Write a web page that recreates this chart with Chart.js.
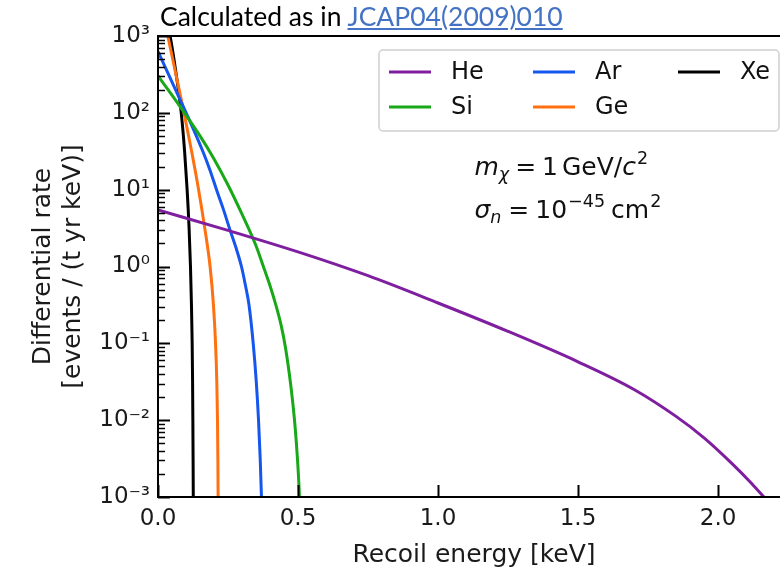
<!DOCTYPE html>
<html>
<head>
<meta charset="utf-8">
<script src="https://cdn.jsdelivr.net/npm/chart.js@4.4.0/dist/chart.umd.min.js"></script>
<style>
    html, body { margin: 0; padding: 0; background: #fff; overflow: hidden; }
    #wrap { position: relative; width: 780px; height: 570px; overflow: hidden; }
    #rateChart { position: absolute; left: 0; top: 0; }
    #caption {
        position: absolute; left: 160px; top: 0px; white-space: nowrap;
        font-family: Lato, "Open Sans", sans-serif; font-size: 26.5px; color: #000;
    }
    #caption a { color: #4472c4; text-decoration: underline; }
</style>
</head>
<body>
<div id="wrap">
    <canvas id="rateChart" width="790" height="570"></canvas>
    <div id="caption">Calculated as in <a href="#">JCAP04(2009)010</a></div>
</div>
<script>
// Recoil energy [keV] and differential rate [events / (t yr keV)]
const energyHe = [0, 0.25, 0.5, 0.75, 1.0, 1.25, 1.5, 1.7, 1.85, 1.95, 2.05, 2.12, 2.17];
const rateHe   = [5.43, 2.95, 1.55, 0.759, 0.335, 0.143, 0.0575, 0.0251, 0.0112, 0.00589, 0.00272, 0.0015, 0.00094];

const energySi = [0, 0.05, 0.1, 0.15, 0.2, 0.25, 0.3, 0.35, 0.38, 0.40, 0.42, 0.44, 0.455, 0.468, 0.48, 0.49, 0.498, 0.504, 0.508];
const rateSi   = [302, 170, 93.3, 50.1, 25.1, 11.5, 4.79, 1.86, 0.912, 0.562, 0.324, 0.17, 0.0891, 0.0427, 0.0186, 0.0079, 0.00316, 0.00126, 0.0005];

const energyAr = [0, 0.04, 0.079, 0.12, 0.16, 0.186, 0.209, 0.233, 0.255, 0.278, 0.298, 0.3125, 0.325, 0.34, 0.351, 0.359, 0.365, 0.3695, 0.3715];
const rateAr   = [631, 302, 148, 69.2, 31.6, 17.8, 10, 5.62, 3.16, 1.78, 1, 0.562, 0.316, 0.1, 0.0316, 0.01, 0.00316, 0.001, 0.0005];

const energyGe = [0, 0.035, 0.064, 0.093, 0.12, 0.145, 0.167, 0.186, 0.198, 0.2055, 0.21, 0.2125, 0.2138, 0.2147, 0.215];
const rateGe   = [3980, 1000, 316, 100, 31.6, 10, 3.16, 1, 0.316, 0.1, 0.0316, 0.01, 0.00316, 0.001, 0.0005];

const energyXe = [0, 0.043, 0.065, 0.083, 0.095, 0.104, 0.111, 0.116, 0.1195, 0.122, 0.1235, 0.1245, 0.1253, 0.126, 0.1265];
const rateXe   = [3550, 1000, 316, 100, 31.6, 10, 3.16, 1, 0.316, 0.1, 0.0316, 0.01, 0.00316, 0.001, 0.0005];

const seriesLabels = ['He', 'Si', 'Ar', 'Ge', 'Xe'];
const seriesColors = ['#7f1fa0', '#18a818', '#1456ee', '#ff7010', '#000000'];

const yTickPowers = [-3, -2, -1, 0, 1, 2, 3];
const xTickStep = 0.5;

const FONT = '"DejaVu Sans", sans-serif';

function toPoints(xs, ys) {
    return xs.map((x, i) => ({ x: x, y: ys[i] }));
}

function superscript(n) {
    const map = { '-': '\u207B', '0': '\u2070', '1': '\u00B9', '2': '\u00B2', '3': '\u00B3',
                  '4': '\u2074', '5': '\u2075', '6': '\u2076', '7': '\u2077', '8': '\u2078', '9': '\u2079' };
    return String(n).split('').map(c => map[c]).join('');
}

const allEnergy = [energyHe, energySi, energyAr, energyGe, energyXe];
const allRate = [rateHe, rateSi, rateAr, rateGe, rateXe];

const datasets = seriesLabels.map((label, i) => ({
    label: label,
    data: toPoints(allEnergy[i], allRate[i]),
    borderColor: seriesColors[i],
    backgroundColor: seriesColors[i],
    borderWidth: 3,
    pointRadius: 0,
    fill: false,
    cubicInterpolationMode: 'monotone'
}));

// Frame and inward ticks like matplotlib
const frameTicksPlugin = {
    id: 'frameTicks',
    afterDatasetsDraw(chart) {
        const { ctx, chartArea: { left, right, top, bottom }, scales: { x, y } } = chart;
        ctx.save();
        ctx.strokeStyle = '#000';
        ctx.lineWidth = 2;
        x.ticks.forEach(t => {
            const px = Math.round(x.getPixelForValue(t.value)) + 0.5;
            ctx.beginPath();
            ctx.moveTo(px, bottom);
            ctx.lineTo(px, bottom - 12);
            ctx.stroke();
        });
        yTickPowers.forEach(k => {
            for (let m = 1; m <= 9; m++) {
                const v = m * Math.pow(10, k);
                if (v > y.max) break;
                const py = Math.round(y.getPixelForValue(v)) + 0.5;
                ctx.lineWidth = m === 1 ? 2 : 1.5;
                ctx.beginPath();
                ctx.moveTo(left, py);
                ctx.lineTo(left + (m === 1 ? 12 : 7), py);
                ctx.stroke();
            }
        });
        ctx.lineWidth = 2;
        ctx.strokeRect(left, top, right - left, bottom - top);
        ctx.restore();
    }
};

// Legend box (3 columns, filled column by column) and parameter text
const legendTextPlugin = {
    id: 'legendText',
    afterDraw(chart) {
        const { ctx, chartArea: { right, top } } = chart;
        const boxRight = right - 11, boxLeft = boxRight - 400;
        const boxTop = top + 14, boxBottom = boxTop + 81;
        ctx.save();
        ctx.fillStyle = 'rgba(255,255,255,0.85)';
        ctx.strokeStyle = '#d0d0d0';
        ctx.lineWidth = 1.5;
        ctx.beginPath();
        ctx.roundRect(boxLeft, boxTop, boxRight - boxLeft, boxBottom - boxTop, 4);
        ctx.fill();
        ctx.stroke();

        ctx.font = '24px ' + FONT;
        ctx.textBaseline = 'middle';
        ctx.textAlign = 'left';
        const colX = [boxLeft + 10, boxLeft + 154, boxLeft + 299];
        const rowY = [boxTop + 22, boxTop + 57];
        chart.data.datasets.forEach((ds, i) => {
            const col = Math.floor(i / 2), row = i % 2;
            const lx = colX[col], ly = rowY[row];
            ctx.strokeStyle = ds.borderColor;
            ctx.lineWidth = 3;
            ctx.beginPath();
            ctx.moveTo(lx, ly);
            ctx.lineTo(lx + 42, ly);
            ctx.stroke();
            ctx.fillStyle = '#111';
            ctx.fillText(ds.label, lx + 62, ly + 1);
        });

        // m_chi and sigma_n annotation
        const drawParts = (parts, x0, base) => {
            let x = x0;
            parts.forEach(p => {
                ctx.font = (p.italic ? 'italic ' : '') + p.size + 'px ' + FONT;
                ctx.fillText(p.t, x, base + (p.dy || 0));
                x += ctx.measureText(p.t).width + (p.gap || 0);
            });
        };
        ctx.fillStyle = '#111';
        ctx.textBaseline = 'alphabetic';
        const ax = chart.scales.x.getPixelForValue(1.13);
        drawParts([
            { t: 'm', italic: true, size: 25 },
            { t: '\u03C7', italic: true, size: 17.5, dy: 5, gap: 6 },
            { t: '=', size: 25, gap: 6 },
            { t: '1', size: 25, gap: 4 },
            { t: 'GeV/', size: 25 },
            { t: 'c', italic: true, size: 25, gap: 1 },
            { t: '2', size: 17.5, dy: -11 }
        ], ax, top + 139);
        drawParts([
            { t: '\u03C3', italic: true, size: 25 },
            { t: 'n', italic: true, size: 17.5, dy: 5, gap: 7 },
            { t: '=', size: 25, gap: 6 },
            { t: '10', size: 25, gap: 1 },
            { t: '\u221245', size: 17.5, dy: -11, gap: 6 },
            { t: 'cm', size: 25, gap: 1 },
            { t: '2', size: 17.5, dy: -11 }
        ], ax, top + 182);
        ctx.restore();
    }
};

const rateChart = new Chart(document.getElementById('rateChart'), {
    type: 'line',
    data: { datasets: datasets },
    options: {
        responsive: false,
        animation: false,
        devicePixelRatio: 1,
        layout: { padding: { top: 36, right: 0, left: 0, bottom: 0 } },
        plugins: {
            legend: { display: false },
            tooltip: { enabled: false }
        },
        scales: {
            x: {
                type: 'linear',
                min: 0,
                max: 2.257,
                grid: { display: false, drawTicks: false },
                border: { display: false },
                ticks: {
                    stepSize: xTickStep,
                    includeBounds: false,
                    padding: 8,
                    color: '#1a1a1a',
                    font: { family: FONT, size: 23 },
                    maxRotation: 0,
                    callback: v => v.toFixed(1)
                },
                title: {
                    display: true,
                    text: 'Recoil energy [keV]',
                    color: '#1a1a1a',
                    font: { family: FONT, size: 25 },
                    padding: { top: 2, bottom: 0 }
                },
                afterFit: scale => { scale.height = 73; }
            },
            y: {
                type: 'logarithmic',
                min: 1e-3,
                max: 1e3,
                grid: { display: false, drawTicks: false },
                border: { display: false },
                afterBuildTicks: scale => {
                    scale.ticks = yTickPowers.map(k => ({ value: Math.pow(10, k) }));
                },
                ticks: {
                    padding: 8,
                    color: '#1a1a1a',
                    font: { family: FONT, size: 23 },
                    callback: v => '10' + superscript(Math.round(Math.log10(v)))
                },
                title: {
                    display: true,
                    text: ['Differential rate', '[events / (t yr keV)]'],
                    color: '#1a1a1a',
                    font: { family: FONT, size: 25, lineHeight: 1.2 },
                    padding: { top: 28, bottom: 0 }
                },
                afterFit: scale => { scale.width = 158; }
            }
        }
    },
    plugins: [frameTicksPlugin, legendTextPlugin]
});
</script>
</body>
</html>
